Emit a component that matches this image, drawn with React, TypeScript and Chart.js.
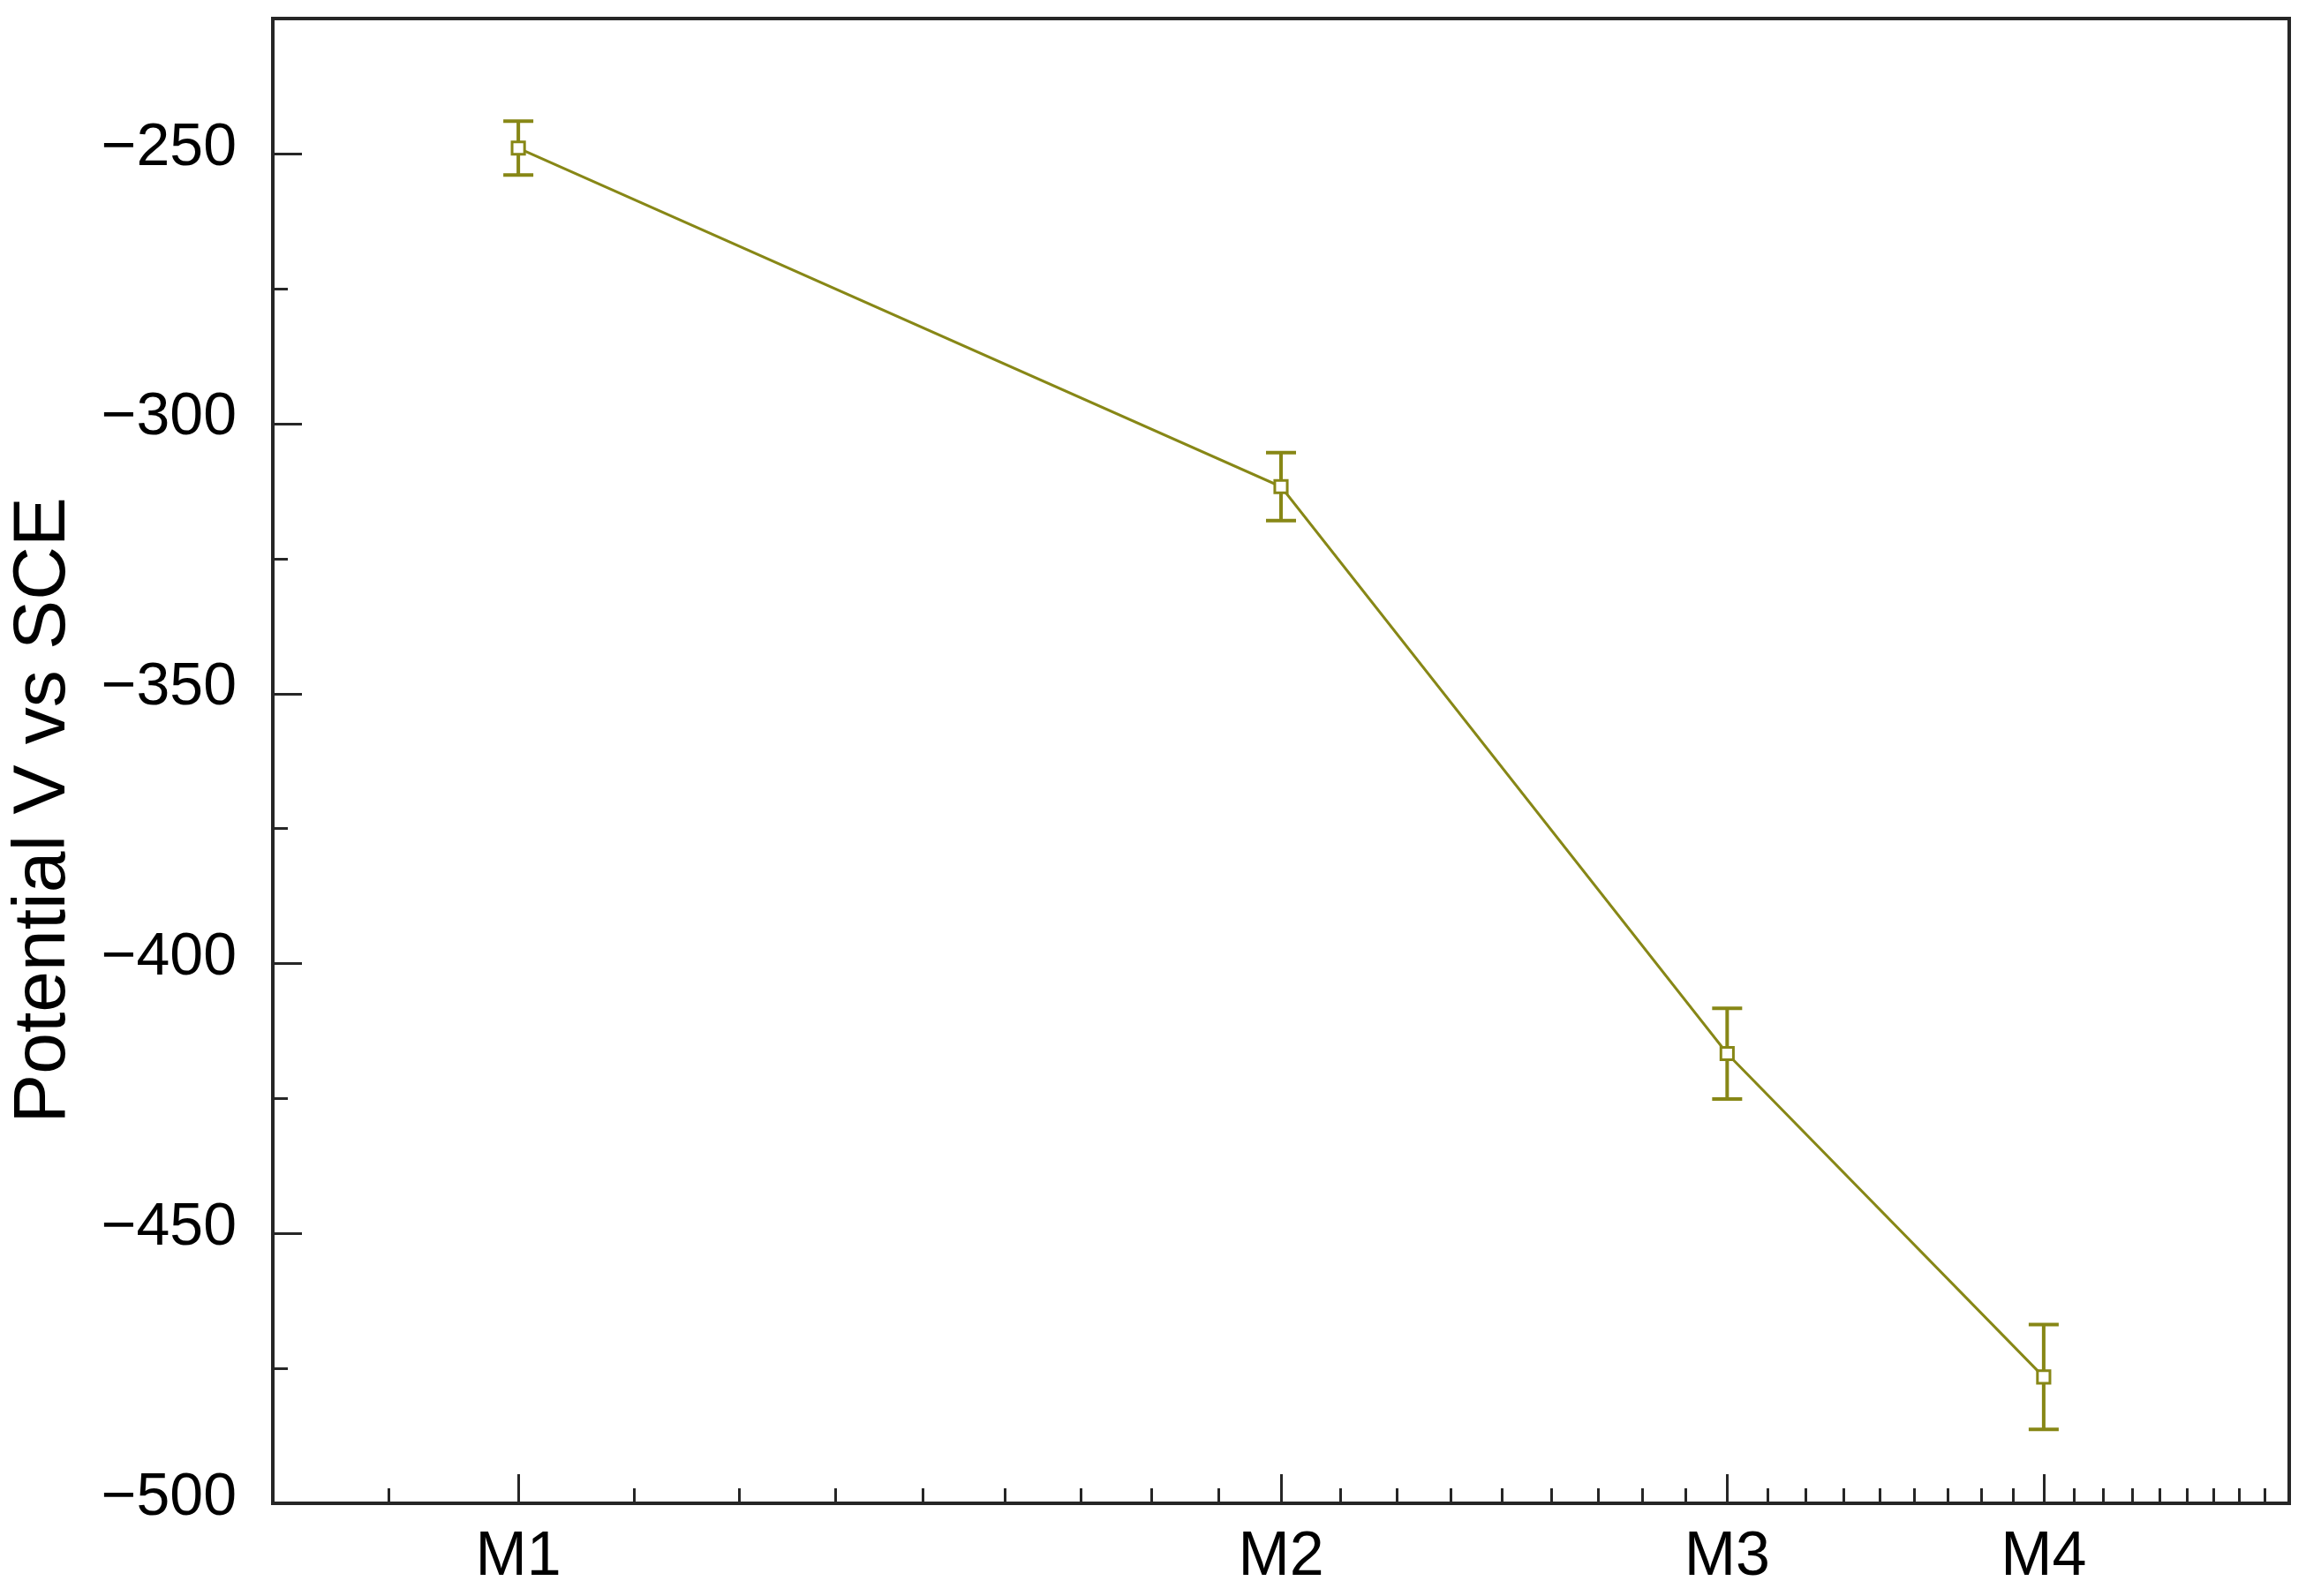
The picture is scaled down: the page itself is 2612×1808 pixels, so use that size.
import React, { useEffect, useRef } from "react";
import { Chart, registerables } from "chart.js";

Chart.register(...registerables);

// ---- data ----
const categories = ["M1", "M2", "M3", "M4"];
const xPositions = [1, 2, 3, 4]; // positions on the logarithmic x axis
const potential = [-249, -311.7, -416.7, -476.6];
const errors = [5, 6.3, 8.4, 9.7];
const yTickValues = [-500, -450, -400, -350, -300, -250];
const yMinorTickValues = [-475, -425, -375, -325, -275];
const yTitle = "Potential V vs SCE";

const X_MIN = 0.8;
const X_MAX = 5;
const Y_MIN = -500;
const Y_MAX = -225;

const OLIVE = "#878716";
const AXIS = "#262626";
const FONT = "'Liberation Sans', Arial, sans-serif";

// minor tick positions on the x axis: each unit interval split into ninths
const xMinorTicks: number[] = (() => {
  const out: number[] = [];
  for (let n = 0; n <= 4; n++) {
    for (let i = 1; i <= 8; i++) {
      const v = n + i / 9;
      if (v > X_MIN && v < X_MAX) out.push(v);
    }
  }
  return out;
})();

const errorBarPlugin = {
  id: "errorBars",
  beforeDatasetsDraw(chart: any) {
    const { ctx, scales } = chart;
    const xs = scales.x;
    const ys = scales.y;
    ctx.save();
    ctx.strokeStyle = OLIVE;
    ctx.lineWidth = 4;
    const cap = 17;
    potential.forEach((v, i) => {
      const x = xs.getPixelForValue(xPositions[i]);
      const yt = ys.getPixelForValue(v + errors[i]);
      const yb = ys.getPixelForValue(v - errors[i]);
      ctx.beginPath();
      ctx.moveTo(x, yt);
      ctx.lineTo(x, yb);
      ctx.moveTo(x - cap, yt);
      ctx.lineTo(x + cap, yt);
      ctx.moveTo(x - cap, yb);
      ctx.lineTo(x + cap, yb);
      ctx.stroke();
    });
    ctx.restore();
  },
};

const framePlugin = {
  id: "frameTicks",
  afterDraw(chart: any) {
    const { ctx, chartArea, scales } = chart;
    const { left, right, top, bottom } = chartArea;
    const xs = scales.x;
    const ys = scales.y;
    ctx.save();
    ctx.strokeStyle = AXIS;
    ctx.lineWidth = 3;
    const majorLen = 33;
    const minorLen = 17;
    ctx.beginPath();
    xPositions.forEach((v) => {
      const x = Math.round(xs.getPixelForValue(v)) + 0.5;
      ctx.moveTo(x, bottom);
      ctx.lineTo(x, bottom - majorLen);
    });
    xMinorTicks.forEach((v) => {
      const x = Math.round(xs.getPixelForValue(v)) + 0.5;
      ctx.moveTo(x, bottom);
      ctx.lineTo(x, bottom - minorLen);
    });
    yTickValues.forEach((v) => {
      const y = Math.round(ys.getPixelForValue(v)) + 0.5;
      ctx.moveTo(left, y);
      ctx.lineTo(left + majorLen, y);
    });
    yMinorTickValues.forEach((v) => {
      const y = Math.round(ys.getPixelForValue(v)) + 0.5;
      ctx.moveTo(left, y);
      ctx.lineTo(left + minorLen, y);
    });
    ctx.stroke();

    ctx.lineWidth = 4;
    ctx.strokeRect(left, top, right - left, bottom - top);

    // y axis title
    ctx.fillStyle = "#000";
    ctx.font = `84px ${FONT}`;
    ctx.textAlign = "center";
    ctx.textBaseline = "middle";
    ctx.translate(50, 918);
    ctx.rotate(-Math.PI / 2);
    ctx.fillText(yTitle, 0, 0);
    ctx.restore();
  },
};

export default function App() {
  const canvasRef = useRef<HTMLCanvasElement | null>(null);

  useEffect(() => {
    document.body.style.margin = "0";
    const canvas = canvasRef.current;
    if (!canvas) return;
    const chart = new Chart(canvas, {
      type: "line",
      data: {
        datasets: [
          {
            data: xPositions.map((x, i) => ({ x, y: potential[i] })),
            borderColor: OLIVE,
            borderWidth: 3,
            pointStyle: "rect",
            pointRadius: 10,
            pointBorderWidth: 3,
            pointBorderColor: OLIVE,
            pointBackgroundColor: "#ffffff",
            tension: 0,
            fill: false,
          },
        ],
      },
      options: {
        responsive: false,
        animation: false,
        devicePixelRatio: 1,
        layout: { padding: { top: 21, right: 19, left: 0, bottom: 0 } },
        plugins: {
          legend: { display: false },
          tooltip: { enabled: false },
        },
        scales: {
          x: {
            type: "logarithmic",
            min: X_MIN,
            max: X_MAX,
            grid: { display: false, drawTicks: false },
            border: { display: false },
            afterBuildTicks: (scale: any) => {
              scale.ticks = xPositions.map((v) => ({ value: v }));
            },
            afterFit: (scale: any) => {
              scale.height = 105;
              scale.paddingLeft = 0;
              scale.paddingRight = 0;
              scale.paddingTop = 0;
              scale.paddingBottom = 0;
            },
            ticks: {
              autoSkip: false,
              maxRotation: 0,
              padding: 20,
              color: "#000",
              font: { family: FONT, size: 70, lineHeight: 1.2 },
              callback: (value: any) => {
                const idx = xPositions.indexOf(Number(value));
                return idx >= 0 ? categories[idx] : "";
              },
            },
          },
          y: {
            type: "linear",
            min: Y_MIN,
            max: Y_MAX,
            grid: { display: false, drawTicks: false },
            border: { display: false },
            afterBuildTicks: (scale: any) => {
              scale.ticks = yTickValues.map((v) => ({ value: v }));
            },
            afterFit: (scale: any) => {
              scale.width = 309;
              scale.paddingTop = 0;
              scale.paddingBottom = 0;
              scale.paddingLeft = 0;
              scale.paddingRight = 0;
            },
            ticks: {
              padding: 41,
              labelOffset: -6,
              color: "#000",
              font: { family: FONT, size: 68, lineHeight: 1.2 },
              callback: (value: any) => String(value).replace("-", "\u2212"),
            },
          },
        },
      },
      plugins: [errorBarPlugin, framePlugin],
    });
    return () => chart.destroy();
  }, []);

  return (
    <div style={{ width: 2612, height: 1808, background: "#fff" }}>
      <canvas ref={canvasRef} width={2612} height={1808} style={{ display: "block" }} />
    </div>
  );
}
